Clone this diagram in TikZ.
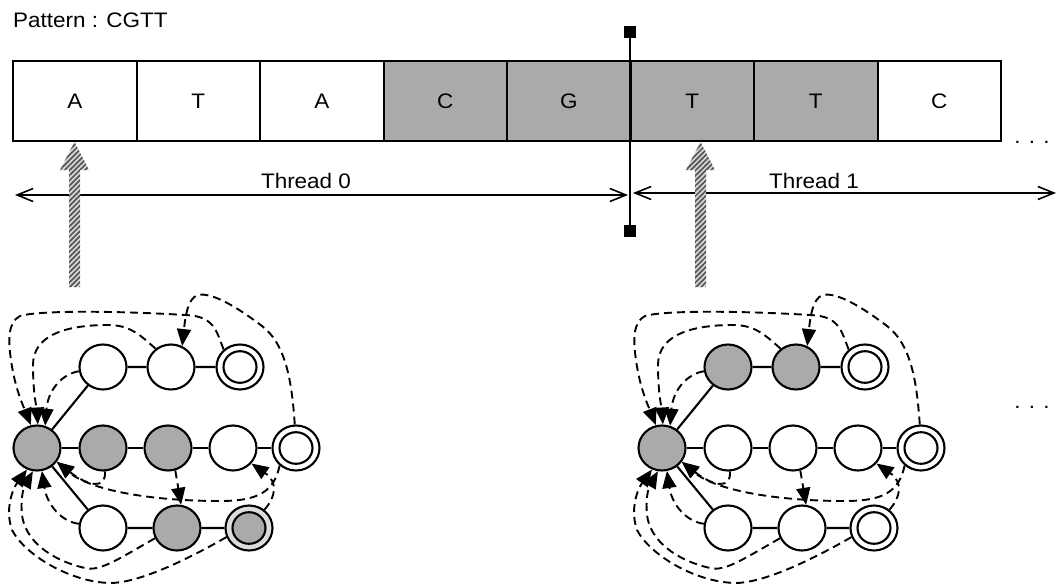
\documentclass[tikz,border=0pt]{standalone}
\usepackage{fontspec}
\setmainfont{Liberation Sans}[FakeStretch=1.07]
\usetikzlibrary{arrows.meta,patterns.meta,shapes.geometric}
\definecolor{cellgrey}{HTML}{AAAAAA}
\definecolor{ringgrey}{HTML}{DCDCDC}
\definecolor{hatchdark}{HTML}{555555}
\begin{document}
\begin{tikzpicture}[x=1pt,y=-1pt,
  every node/.style={font=\fontsize{21}{25}\selectfont},
  cell/.style={draw,line width=2pt,minimum width=123.5pt,minimum height=80pt,inner sep=0pt,outer sep=0pt},
  label/.style={inner sep=0pt},
  endsq/.style={fill=black,minimum size=12pt,inner sep=0pt},
  divider/.style={line width=2pt},
  thread/.style={line width=1.6pt,{Straight Barb[length=16pt,width=13pt]}-{Straight Barb[length=16pt,width=13pt]}},
  hatch/.style={preaction={fill=gray!30},pattern={Lines[angle=45,distance=3.6pt,line width=1.7pt]},pattern color=hatchdark},
  state/.style={ellipse,draw,line width=2.1pt,minimum width=47pt,minimum height=45pt,inner sep=0pt},
  plain/.style={fill=white},
  hit/.style={fill=cellgrey},
  ring/.style={line width=2.1pt},
  edge/.style={line width=2.1pt},
  fail/.style={line width=1.9pt,dash pattern=on 8pt off 5pt,-{Triangle[length=17pt,width=14pt]}},
  % fills of the states of the two automata
  L-t1/.style=plain, L-t2/.style=plain, L-t3/.style=plain,
  L-m2/.style=hit, L-m3/.style=hit, L-m4/.style=plain, L-m5/.style=plain,
  L-b1/.style=plain, L-b2/.style=hit, L-b3/.style={fill=ringgrey}, L-b3in/.style=hit,
  R-t1/.style=hit, R-t2/.style=hit, R-t3/.style=plain,
  R-m2/.style=plain, R-m3/.style=plain, R-m4/.style=plain, R-m5/.style=plain,
  R-b1/.style=plain, R-b2/.style=plain, R-b3/.style=plain, R-b3in/.style=plain]
\useasboundingbox (0,0) rectangle (1057,586);

% pattern label
\node[label,anchor=base west] (pat) at (13,28) {Pattern : CGTT};

% text cells
\foreach \l/\f [count=\i from 0] in {A/white,T/white,A/white,C/cellgrey,G/cellgrey,T/cellgrey,T/cellgrey,C/white}
  \node[cell,fill=\f] (c\i) at ({13+123.5*(\i+0.5)},101) {\l};
\node[label,anchor=base] (dots1) at (1032,143) {. . .};

% thread ranges
\coordinate (t0l) at (15,195);
\coordinate (t0r) at (628,195);
\coordinate (t1l) at (633,193);
\coordinate (t1r) at (1056,193);
\draw[thread] (t0l) -- (t0r);
\draw[thread] (t1l) -- (t1r);
\node[label,anchor=base] (th0) at (306,188) {Thread 0};
\node[label,anchor=base] (th1) at (814,188) {Thread 1};

% split marker between the two threads
\node[endsq] (sqtop) at (630,32) {};
\node[endsq] (sqbot) at (630,231) {};
\draw[divider] (sqtop.center) -- (sqbot.center);

% read heads of the threads
\path[hatch] (69,287) -- (69,170) -- (60,170) -- (74.5,142) -- (89,170) -- (80,170) -- (80,287) -- cycle;
\path[hatch] (695,287) -- (695,170) -- (686,170) -- (700.5,142) -- (715,170) -- (706,170) -- (706,287) -- cycle;

\node[label,anchor=base] (dots2) at (1032,408) {. . .};

% the two automata
\foreach \p/\dx in {L/0,R/625}{
\begin{scope}[xshift=\dx]
  \node[state,hit] (\p-s) at (37,448) {};
  \node[state,\p-t1] (\p-t1) at (103,367) {};
  \node[state,\p-t2] (\p-t2) at (171,367) {};
  \node[state,\p-t3] (\p-t3) at (240,367) {};
  \node[state,\p-m2] (\p-m2) at (103,448) {};
  \node[state,\p-m3] (\p-m3) at (168,448) {};
  \node[state,\p-m4] (\p-m4) at (233,448) {};
  \node[state,\p-m5] (\p-m5) at (296,448) {};
  \node[state,\p-b1] (\p-b1) at (103,528) {};
  \node[state,\p-b2] (\p-b2) at (177,528) {};
  \node[state,\p-b3] (\p-b3) at (249,528) {};
  \draw[ring,fill=white] (\p-t3.center) ellipse [x radius=16.5, y radius=15.8];
  \draw[ring,fill=white] (\p-m5.center) ellipse [x radius=16.5, y radius=15.8];
  \draw[ring,\p-b3in] (\p-b3.center) ellipse [x radius=16.5, y radius=15.8];
  % goto edges
  \draw[edge] (\p-s) -- (\p-t1) -- (\p-t2) -- (\p-t3);
  \draw[edge] (\p-s) -- (\p-m2) -- (\p-m3) -- (\p-m4) -- (\p-m5);
  \draw[edge] (\p-s) -- (\p-b1) -- (\p-b2) -- (\p-b3);
  % failure links
  \draw[fail] (\p-t1.190) .. controls (62,374) and (48,390) .. (\p-s.70);
  \draw[fail] (\p-t2.130) .. controls (140,335) and (130,325) .. (108,325)
     .. controls (60,325) and (33,338) .. (33,365) .. controls (33,395) and (37,410) .. (\p-s.88);
  \draw[fail] (\p-t3.133) .. controls (216,330) and (214,316) .. (185,315)
     .. controls (120,311) and (40,310) .. (20,316) .. controls (8,322) and (8,340) .. (11,360)
     .. controls (15,390) and (25,410) .. (\p-s.105);
  \draw[fail] (\p-m5.93) .. controls (292,385) and (287,345) .. (262,326)
     .. controls (237,307) and (212,292) .. (198,295) .. controls (187,298) and (185,320) .. (\p-t2.62);
  \draw[fail] (\p-m2.-85) .. controls (106,490) and (88,486) .. (\p-s.-35);
  \draw[fail] (\p-m5.-133) .. controls (274,492) and (258,501) .. (220,501)
     .. controls (150,501) and (90,490) .. (\p-s.-35);
  \draw[fail] (\p-m3.-72) -- (\p-b2.80);
  \draw[fail] (\p-b3.50) .. controls (276,497) and (278,482) .. (\p-m4.-40);
  \draw[fail] (\p-b1.170) .. controls (62,522) and (47,505) .. (\p-s.-78);
  \draw[fail] (\p-b2.-155) .. controls (120,558) and (100,572) .. (85,568)
     .. controls (50,560) and (25,540) .. (22,515) .. controls (20,495) and (25,485) .. (\p-s.-100);
  \draw[fail] (\p-b3.-158) .. controls (190,558) and (140,583) .. (110,583)
     .. controls (70,582) and (25,555) .. (12,530) .. controls (5,510) and (12,490) .. (\p-s.-115);
\end{scope}}
\end{tikzpicture}
\end{document}
